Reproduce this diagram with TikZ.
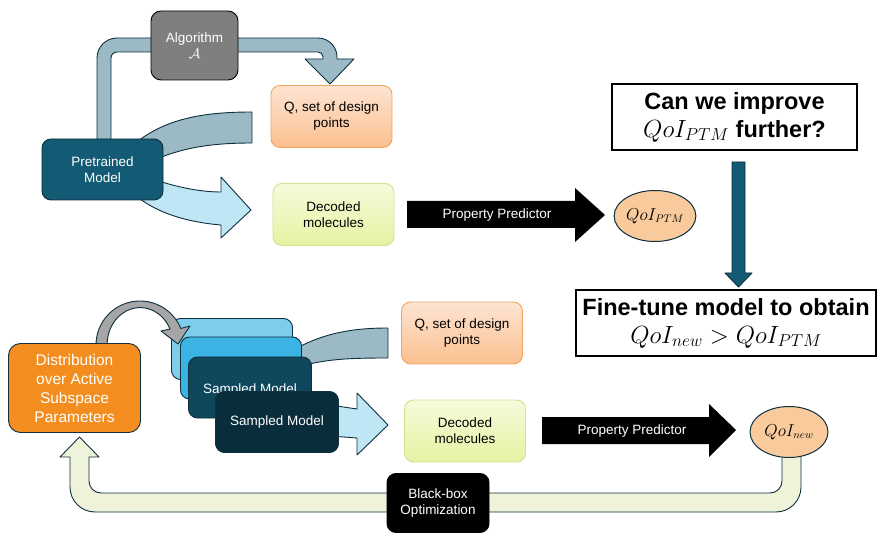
\documentclass[tikz,border=0pt]{standalone}
\usepackage{amsmath}
\usepackage{fontspec}
\setmainfont{Liberation Sans}
\usepackage{tikz}
\usetikzlibrary{shapes,arrows.meta,positioning}

\definecolor{steel}{HTML}{9BBAC6}
\definecolor{edge}{HTML}{0E2F3C}
\definecolor{ptm}{HTML}{135A75}
\definecolor{skyarrow}{HTML}{BEE6F5}
\definecolor{algogray}{HTML}{7F7F7F}
\definecolor{peachtop}{HTML}{FDE4D2}
\definecolor{peachbot}{HTML}{FBC08F}
\definecolor{peachedge}{HTML}{F2A45E}
\definecolor{limetop}{HTML}{F5FBDB}
\definecolor{limebot}{HTML}{E5F3A3}
\definecolor{limeedge}{HTML}{CFE38F}
\definecolor{qoifill}{HTML}{F9CB9C}
\definecolor{distorange}{HTML}{F48D1F}
\definecolor{stackA}{HTML}{7ECDEB}
\definecolor{stackB}{HTML}{3BB4E3}
\definecolor{stackC}{HTML}{0F475C}
\definecolor{stackD}{HTML}{0A2D3C}
\definecolor{loopgreen}{HTML}{EEF3DA}
\definecolor{arcgray}{HTML}{A6A6A6}

\newcommand{\diagfont}{\fontsize{13.5}{16}\selectfont}
\newcommand{\distfont}{\fontsize{15.5}{19}\selectfont}
\newcommand{\headfont}{\fontsize{23.5}{28}\selectfont\bfseries}
\newcommand{\qoifont}{\fontsize{16}{18}\selectfont}

\begin{document}
\begin{tikzpicture}[x=1pt,y=-1pt,
  box/.style={rounded corners=9pt, minimum width=121pt, minimum height=62pt, align=center, font=\diagfont, line width=0.9pt, inner sep=1pt},
  peach/.style={box, draw=peachedge, top color=peachtop, bottom color=peachbot},
  lime/.style={box, draw=limeedge, top color=limetop, bottom color=limebot},
  dark/.style={box, draw=edge, text=white},
  question/.style={draw=black, line width=1.2pt, fill=white, align=center, font=\headfont, inner sep=0pt},
  qoi/.style={ellipse, draw=edge, fill=qoifill, line width=1pt, minimum width=78pt, minimum height=51pt, inner sep=0pt, font=\qoifont},
  block/.style={draw=edge, line width=0.9pt, line join=round}]
\useasboundingbox (0,0) rectangle (878,534);

% pretrained model row
\draw[block, fill=steel] (97,140) -- (97,58) arc[start angle=180, end angle=270, radius=20] -- (318,38)
  arc[start angle=270, end angle=360, radius=19] -- (337,59) -- (354,59) -- (330,84) -- (305,59) -- (323,59) -- (323,57)
  arc[start angle=0, end angle=-90, radius=5] -- (117,52) arc[start angle=270, end angle=180, radius=6] -- (111,140) -- cycle;
\draw[block, fill=steel] (128,150) .. controls (160,118) and (205,112) .. (252,112) -- (252,143)
  .. controls (210,143) and (180,148) .. (150,162) -- cycle;
\draw[block, fill=skyarrow] (150,178) .. controls (175,187) and (200,192) .. (221,192) -- (221,177) -- (251,210)
  -- (221,238) -- (221,225) .. controls (185,222) and (155,212) .. (135,195) -- cycle;

\node[box, draw=black, fill=algogray, text=white, minimum width=87pt, minimum height=69pt, rounded corners=10pt] (alg) at (194.5,45.5) {Algorithm\\$\mathcal{A}$};
\node[peach] (q1) at (331.5,116.5) {Q, set of design\\points};
\node[dark, fill=ptm, minimum height=61pt] (pre) at (102.5,169.5) {Pretrained\\Model};
\node[lime] (dec1) at (333.5,214.5) {Decoded\\molecules};

\fill (407,201) -- (575,201) -- (575,188) -- (605,215) -- (575,242) -- (575,228) -- (407,228) -- cycle;
\node[text=white, font=\diagfont] (pp1) at (497,215) {Property Predictor};
\node[qoi] (qoi1) at (655,216) {$QoI_{PTM}$};

% question and fine-tuning
\node[question, minimum width=245pt, minimum height=66pt] (ask) at (734.5,117) {Can we improve\\$QoI_{PTM}$ further?};
\draw[block, fill=ptm] (732,162) -- (745,162) -- (745,273) -- (752,273) -- (738.5,287) -- (725,273) -- (732,273) -- cycle;
\node[question, minimum width=300pt, minimum height=66pt] (tune) at (726,323) {Fine-tune model to obtain\\$QoI_{new} > QoI_{PTM}$};

% sampled model row
\draw[block, fill=loopgreen] (782,450) -- (782,481) arc[start angle=0, end angle=90, radius=12] -- (101,493)
  arc[start angle=90, end angle=180, radius=12] -- (89,457) -- (99,457) -- (79.5,437) -- (60,457) -- (70,457) -- (70,487)
  arc[start angle=180, end angle=90, radius=25] -- (776,512) arc[start angle=90, end angle=0, radius=25] -- (801,450) -- cycle;
\draw[block, fill=steel] (290,352) .. controls (320,334) and (350,328) .. (388,328) -- (388,358)
  .. controls (350,358) and (330,359) .. (305,365) -- cycle;
\draw[block, fill=skyarrow] (330,405) -- (357,409) -- (357,393) -- (388,425) -- (357,455) -- (357,438) -- (330,436) -- cycle;

\node[dark, fill=stackA, minimum height=61pt] (sm1) at (232,349) {};
\node[dark, fill=stackB] (sm2) at (241,368) {};
\node[dark, fill=stackC, minimum width=123pt, minimum height=61pt] (sm3) at (250,387.5) {\raisebox{-6.5pt}[0pt][0pt]{Sampled Model}};
\node[dark, fill=stackD, minimum width=123pt, minimum height=61pt] (sm4) at (277,422) {Sampled Model};
\draw[block, fill=arcgray] (96,345) arc[start angle=180, end angle=338, radius=44] -- (190,326) -- (178,344) -- (161,331)
  -- (170,329) arc[start angle=335, end angle=180, x radius=33, y radius=37] -- cycle;
\node[box, draw=edge, fill=distorange, text=white, minimum width=132pt, minimum height=89pt, rounded corners=12pt, font=\distfont] (dist) at (74.5,388) {Distribution\\over Active\\Subspace\\Parameters};
\node[peach] (q2) at (462,333) {Q, set of design\\points};
\node[lime] (dec2) at (465,431) {Decoded\\molecules};

\fill (542,417) -- (709,417) -- (709,404) -- (736,430) -- (709,457) -- (709,444) -- (542,444) -- cycle;
\node[text=white, font=\diagfont] (pp2) at (632,431) {Property Predictor};
\node[qoi] (qoi2) at (789,432) {$QoI_{new}$};
\node[box, draw=black, fill=black, text=white, minimum width=102pt, minimum height=59pt] (bbo) at (438,503) {Black-box\\Optimization};
\end{tikzpicture}
\end{document}
